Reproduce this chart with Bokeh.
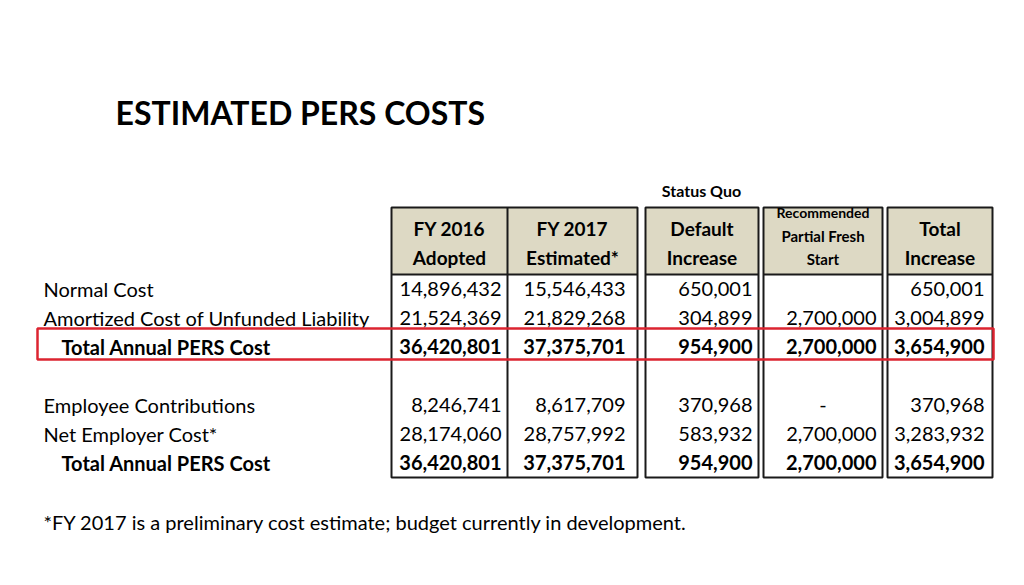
from bokeh.plotting import figure
from bokeh.models import ColumnDataSource, Range1d
from bokeh.core.properties import value
from bokeh.embed import file_html
from bokeh.resources import INLINE

# ---------------- data ----------------
title = "ESTIMATED PERS COSTS"
group_label = "Status Quo"
footnote = "*FY 2017 is a preliminary cost estimate; budget currently in development."
col_headers = [["FY 2016", "Adopted"], ["FY 2017", "Estimated*"], ["Default", "Increase"],
               ["Recommended", "Partial Fresh", "Start"], ["Total", "Increase"]]
row_labels = ["Normal Cost", "Amortized Cost of Unfunded Liability", "Total Annual PERS Cost", "",
              "Employee Contributions", "Net Employer Cost*", "Total Annual PERS Cost"]
bold_rows = [False, False, True, False, False, False, True]
fy2016 = [14896432, 21524369, 36420801, None, 8246741, 28174060, 36420801]
fy2017 = [15546433, 21829268, 37375701, None, 8617709, 28757992, 37375701]
default_increase = [650001, 304899, 954900, None, 370968, 583932, 954900]
fresh_start = [None, 2700000, 2700000, None, 0, 2700000, 2700000]
total_increase = [650001, 3004899, 3654900, None, 370968, 3283932, 3654900]
highlight_row = 2

# ---------------- layout ----------------
W, H = 1008, 569
FONT = "Lato"
p = figure(width=W, height=H, output_backend="svg", toolbar_location=None,
           x_range=Range1d(0, W), y_range=Range1d(H, 0),
           min_border=0, outline_line_color=None)
p.axis.visible = False
p.grid.visible = False
p.background_fill_color = "white"
p.border_fill_color = "white"

boxes = [(391, 637), (645, 758), (763, 882), (887, 992)]
col_bounds = [(391, 507), (507, 637), (645, 758), (763, 882), (887, 992)]
num_right = [501, 625, 752, 876, 984]
top, head_bot, bot = 207, 274, 477
row_y0, row_dy = 288, 29.0
row_ys = [row_y0 + i * row_dy for i in range(len(row_labels))]

# header fills
p.quad(left=[b[0] for b in boxes], right=[b[1] for b in boxes],
       top=[top] * 4, bottom=[head_bot] * 4, fill_color="#ddd9c4", line_color=None)
# box outlines
p.quad(left=[b[0] for b in boxes], right=[b[1] for b in boxes],
       top=[top] * 4, bottom=[bot] * 4, fill_color=None, line_color="#1a1a1a", line_width=2)
# header bottom lines and inner divider
xs = [[b[0], b[1]] for b in boxes] + [[col_bounds[0][1], col_bounds[0][1]]]
ys = [[head_bot, head_bot] for _ in boxes] + [[top, bot]]
p.multi_line(xs=xs, ys=ys, line_color="#1a1a1a", line_width=2)

# title
p.text(x=[115], y=[112], text=[title], text_font=value(FONT), text_font_style="bold",
       text_font_size="32px", text_baseline="middle", text_align="left", text_color="#000000")
# group label
p.text(x=[701], y=[190], text=[group_label], text_font=value(FONT), text_font_style="bold",
       text_font_size="16px", text_baseline="middle", text_align="center", text_color="#000000")

# column headers
hx, hy, ht, hs = [], [], [], []
for (l, r), lines in zip(col_bounds, col_headers):
    cx = (l + r) / 2
    if len(lines) == 2:
        for t, yy in zip(lines, [228, 257]):
            hx.append(cx); hy.append(yy); ht.append(t); hs.append("19px")
    else:
        for t, yy, fs in zip(lines, [212, 235, 258], ["14px", "15px", "15px"]):
            hx.append(cx); hy.append(yy); ht.append(t); hs.append(fs)
p.text(x="x", y="y", text="t", text_font_size="s",
       source=ColumnDataSource(dict(x=hx, y=hy, t=ht, s=hs)),
       text_font=value(FONT), text_font_style="bold", text_baseline="middle",
       text_align="center", text_color="#000000")

# row labels
def add_text(data, bold, align):
    if not data["x"]:
        return
    p.text(x="x", y="y", text="t", source=ColumnDataSource(data),
           text_font=value(FONT), text_font_style="bold" if bold else "normal",
           text_font_size="20px", text_baseline="middle", text_align=align, text_color="#000000")

lab = {True: dict(x=[], y=[], t=[]), False: dict(x=[], y=[], t=[])}
for lbl, yy, b in zip(row_labels, row_ys, bold_rows):
    if lbl:
        lab[b]["x"].append(61 if b else 43); lab[b]["y"].append(yy); lab[b]["t"].append(lbl)
add_text(lab[False], False, "left")
add_text(lab[True], True, "left")

def fmt(v):
    if v is None:
        return ""
    if v == 0:
        return "-"
    return f"{v:,}"

cols = [fy2016, fy2017, default_increase, fresh_start, total_increase]
num = {True: dict(x=[], y=[], t=[]), False: dict(x=[], y=[], t=[])}
dash = dict(x=[], y=[], t=[])
for ci, col in enumerate(cols):
    for ri, v in enumerate(col):
        s = fmt(v)
        if not s:
            continue
        if s == "-":
            dash["x"].append(sum(col_bounds[ci]) / 2); dash["y"].append(row_ys[ri]); dash["t"].append(s)
        else:
            b = bold_rows[ri]
            num[b]["x"].append(num_right[ci]); num[b]["y"].append(row_ys[ri]); num[b]["t"].append(s)
add_text(num[False], False, "right")
add_text(num[True], True, "right")
add_text(dash, False, "center")

# highlight rectangle
hy_c = row_ys[highlight_row]
p.quad(left=[37], right=[993], top=[hy_c - 18], bottom=[hy_c + 13],
       fill_color=None, line_color="#dc2430", line_width=2.5)

# footnote
p.text(x=[43], y=[521], text=[footnote], text_font=value(FONT), text_font_size="20px",
       text_baseline="middle", text_align="left", text_color="#000000")

open("out.html", "w").write(file_html(p, INLINE))
